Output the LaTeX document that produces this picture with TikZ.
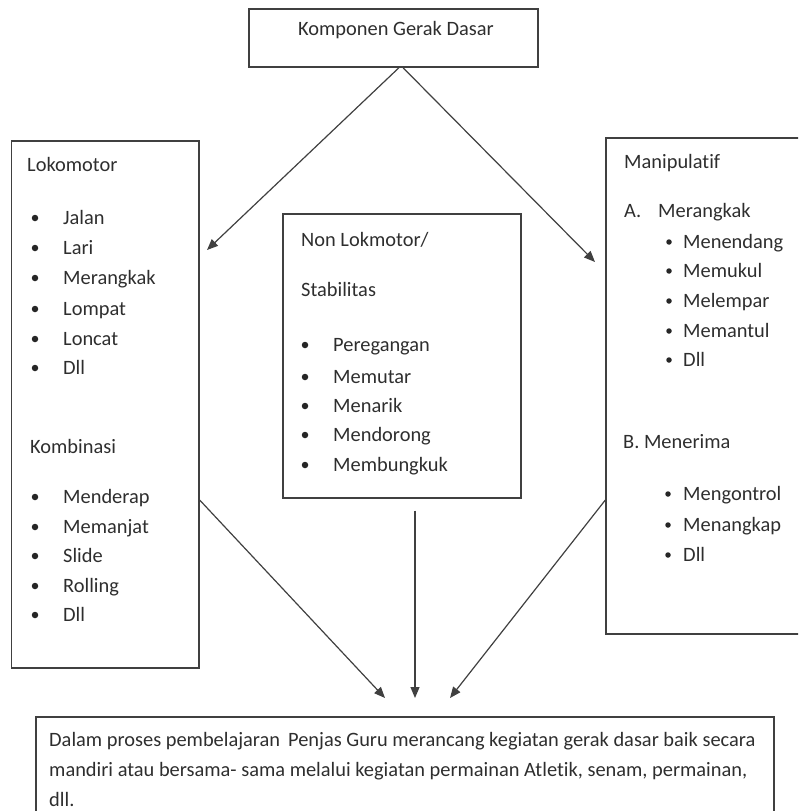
\documentclass[tikz,border=0pt]{standalone}
\usepackage{fontspec}
\setmainfont{Carlito}[Ligatures=NoCommon]
\usetikzlibrary{arrows.meta}
\tikzset{
  box/.style={draw=black!75,line width=1.3pt,rectangle,inner sep=0pt},
  txt/.style={anchor=west,inner sep=0pt,text=black!82,text height=13pt,text depth=0pt,font=\fontsize{20.4}{24}\selectfont},
  dot/.style={circle,fill=black!85,inner sep=0pt,minimum size=6.5pt},
  sdot/.style={circle,fill=black!85,inner sep=0pt,minimum size=5.5pt},
  arr/.style={draw=black!75,line width=1.2pt,-{Triangle[length=11pt,width=9pt]}}
}
\begin{document}
\begin{tikzpicture}[x=1pt,y=-1pt]
  \useasboundingbox (0,0) rectangle (798,811);
  \clip (0,0) rectangle (798,811);
  % boxes
  \node[box,minimum width=289pt,minimum height=58pt] (top) at (393.5,38) {};
  \node[box,minimum width=187.5pt,minimum height=527pt] (lok) at (105.25,404.5) {};
  \node[box,minimum width=238pt,minimum height=284pt] (non) at (402,356) {};
  \node[box,minimum width=224pt,minimum height=496pt] (man) at (718,386) {};
  \node[box,minimum width=738pt,minimum height=140pt] (bot) at (405,787) {};
  % top text
  \node[txt] (judul) at (298,29) {Komponen Gerak Dasar};
  % Lokomotor
  \node[txt] (lokjudul) at (27,165) {Lokomotor};
  \foreach \y/\t [count=\i] in {218/Jalan,248/Lari,278/Merangkak,309/Lompat,339/Loncat,368/Dll}{
    \node[dot] (lokd\i) at (35,\y) {};
    \node[txt] (lok\i) at (63,\y) {\t};
  }
  \node[txt] (kombjudul) at (30,447) {Kombinasi};
  \foreach \y/\t [count=\i] in {497/Menderap,527/Memanjat,556/Slide,586/Rolling,615/Dll}{
    \node[dot] (kombd\i) at (35,\y) {};
    \node[txt] (komb\i) at (63,\y) {\t};
  }
  % Non Lokomotor
  \node[txt] (nonjudul) at (301,240) {Non Lokmotor/};
  \node[txt] (stab) at (301,290) {Stabilitas};
  \foreach \y/\t [count=\i] in {345/Peregangan,377/Memutar,406/Menarik,435/Mendorong,465/Membungkuk}{
    \node[dot] (nond\i) at (305,\y) {};
    \node[txt] (non\i) at (333,\y) {\t};
  }
  % Manipulatif
  \node[txt] (manjudul) at (624,162) {Manipulatif};
  \node[txt] (hurufA) at (624,211) {A.};
  \node[txt] (merangkak) at (658,211) {Merangkak};
  \foreach \y/\t [count=\i] in {242/Menendang,271/Memukul,301/Melempar,331/Memantul,360/Dll}{
    \node[sdot] (mand\i) at (669,\y) {};
    \node[txt] (man\i) at (683,\y) {\t};
  }
  \node[txt] (menerima) at (623,442) {B. Menerima};
  \foreach \y/\t [count=\i] in {494/Mengontrol,525/Menangkap,555/Dll}{
    \node[sdot] (terd\i) at (668,\y) {};
    \node[txt] (ter\i) at (683,\y) {\t};
  }
  % bottom text
  \node[txt] (ket1) at (49,740) {Dalam proses pembelajaran\, Penjas Guru merancang kegiatan gerak dasar baik secara};
  \node[txt] (ket2) at (49,770) {mandiri atau bersama- sama melalui kegiatan permainan Atletik, senam, permainan,};
  \node[txt] (ket3) at (49,800) {dll.};
  % arrow ends
  \coordinate (lokin) at (207,250);
  \coordinate (manin) at (595,262);
  \coordinate (botinL) at (385,698);
  \coordinate (botinM) at (415,698);
  \coordinate (botinR) at (450,698);
  \draw[arr] ([xshift=5.5pt]top.south) -- (lokin);
  \draw[arr] ([xshift=9.5pt]top.south) -- (manin);
  \draw[arr] (lok.east |- 0,500) -- (botinL);
  \draw[arr] ([xshift=13pt]non.south) ++(0,12) -- (botinM);
  \draw[arr] (man.west |- 0,500) -- (botinR);
\end{tikzpicture}
\end{document}
